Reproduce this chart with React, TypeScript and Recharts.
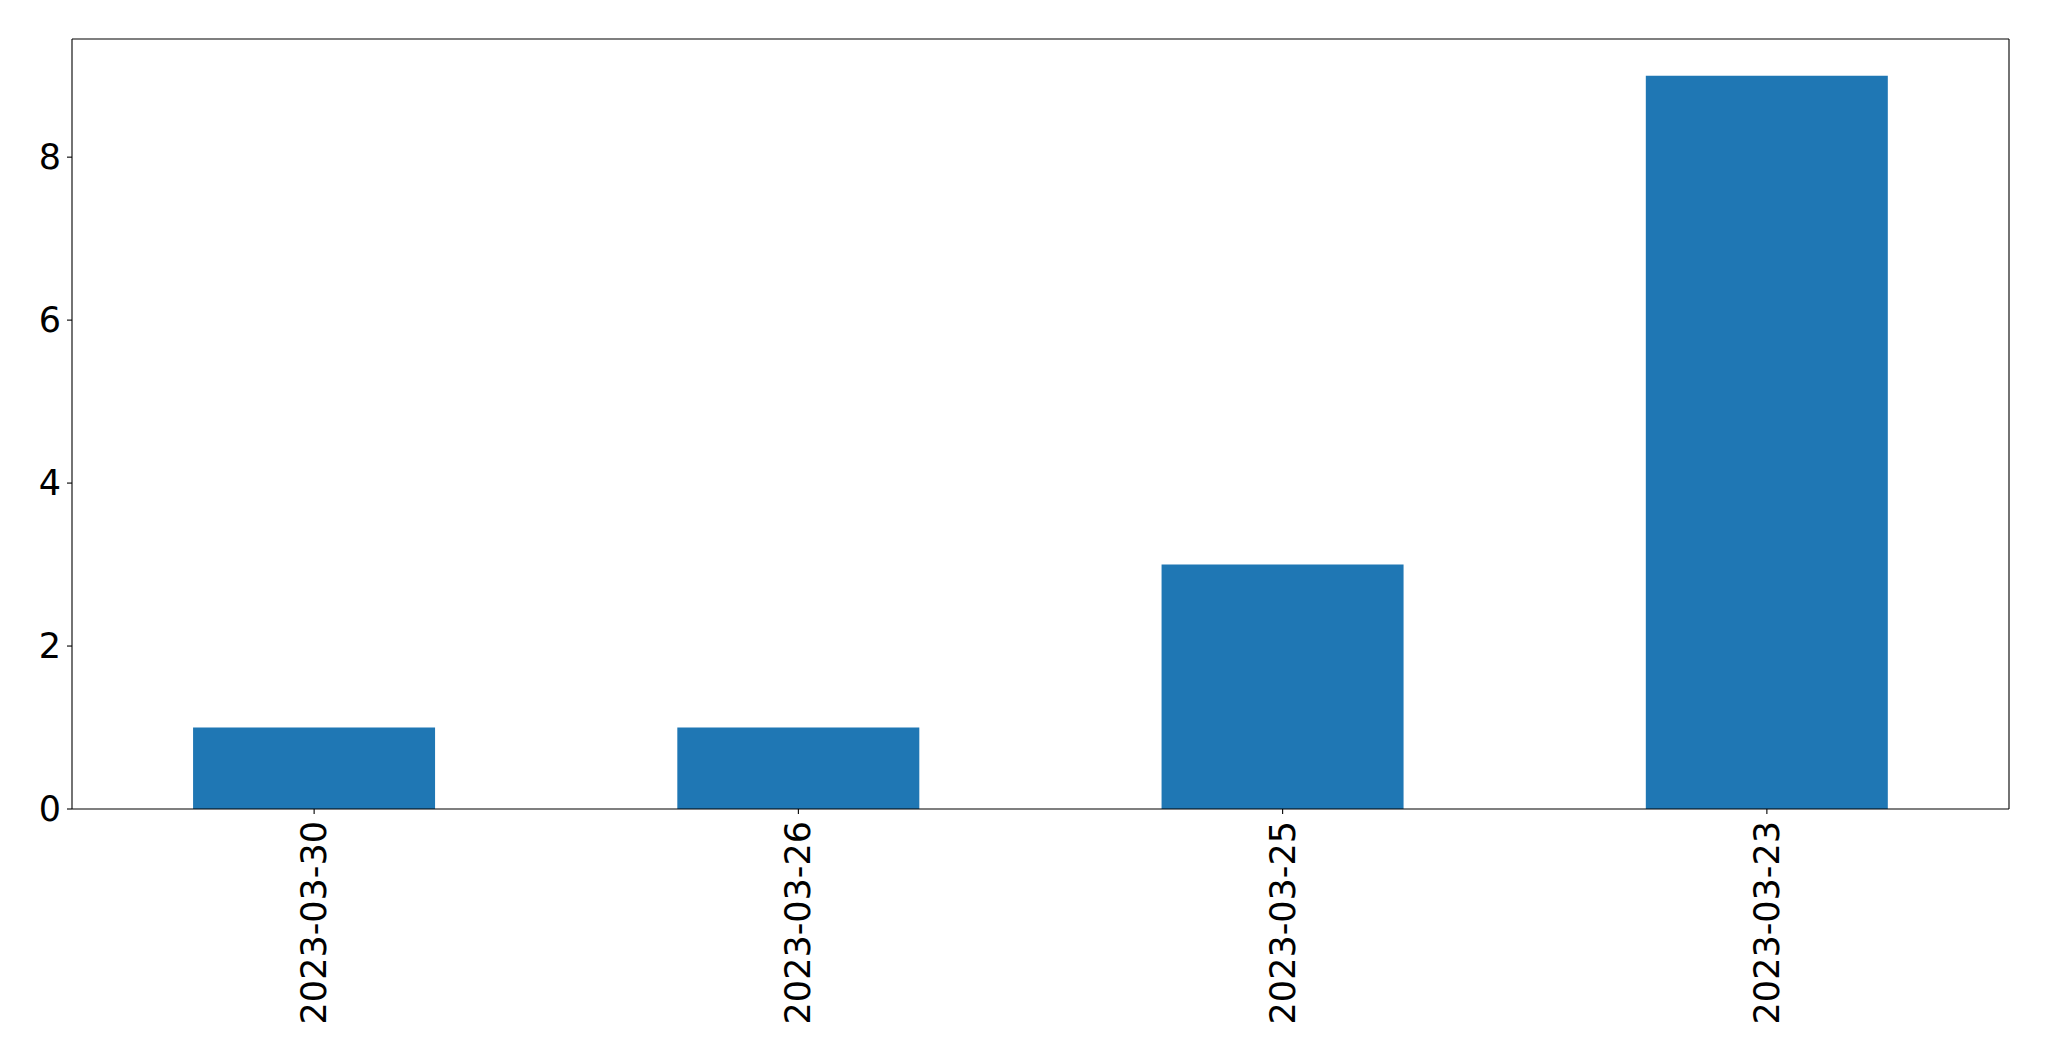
import React from 'react';
import { BarChart, Bar, XAxis, YAxis, CartesianGrid } from 'recharts';

const dates = ['2023-03-30', '2023-03-26', '2023-03-25', '2023-03-23'];
const counts = [1, 1, 3, 9];
const yTicks = [0, 2, 4, 6, 8];
const yMax = 9.45;

const data = dates.map((date, i) => ({ date, count: counts[i] }));

const FONT = '"DejaVu Sans", sans-serif';

const XTick = (props: any) => {
  const { x, y, payload } = props;
  return (
    <g transform={`translate(${x},${y})`}>
      <text
        transform="rotate(-90)"
        textAnchor="end"
        dominantBaseline="central"
        fontFamily={FONT}
        fontSize={35}
        fill="#000"
      >
        {payload.value}
      </text>
    </g>
  );
};

const YTick = (props: any) => {
  const { x, y, payload } = props;
  return (
    <text
      x={x}
      y={y}
      textAnchor="end"
      dominantBaseline="central"
      fontFamily={FONT}
      fontSize={35}
      fill="#000"
    >
      {payload.value}
    </text>
  );
};

const App = () => {
  return (
    <div style={{ position: 'fixed', top: 0, left: 0, width: 2049, height: 1061, background: '#fff' }}>
      <BarChart
        width={2049}
        height={1061}
        data={data}
        barCategoryGap="25%"
        margin={{ top: 39, right: 40, left: 0, bottom: 0 }}
      >
        {/* top and right spines */}
        <CartesianGrid
          stroke="#000"
          strokeWidth={1.1}
          horizontalCoordinatesGenerator={({ offset }: any) => [offset.top]}
          verticalCoordinatesGenerator={({ offset }: any) => [offset.left + offset.width]}
        />
        <XAxis
          dataKey="date"
          height={252}
          interval={0}
          tick={<XTick />}
          tickSize={5}
          tickMargin={7}
          axisLine={{ stroke: '#000', strokeWidth: 1.1 }}
          tickLine={{ stroke: '#000', strokeWidth: 1.1 }}
        />
        <YAxis
          width={72}
          domain={[0, yMax]}
          ticks={yTicks}
          allowDataOverflow
          tick={<YTick />}
          tickSize={5}
          tickMargin={6}
          axisLine={{ stroke: '#000', strokeWidth: 1.1 }}
          tickLine={{ stroke: '#000', strokeWidth: 1.1 }}
        />
        <Bar dataKey="count" fill="#1f77b4" isAnimationActive={false} />
      </BarChart>
    </div>
  );
};

export default App;
